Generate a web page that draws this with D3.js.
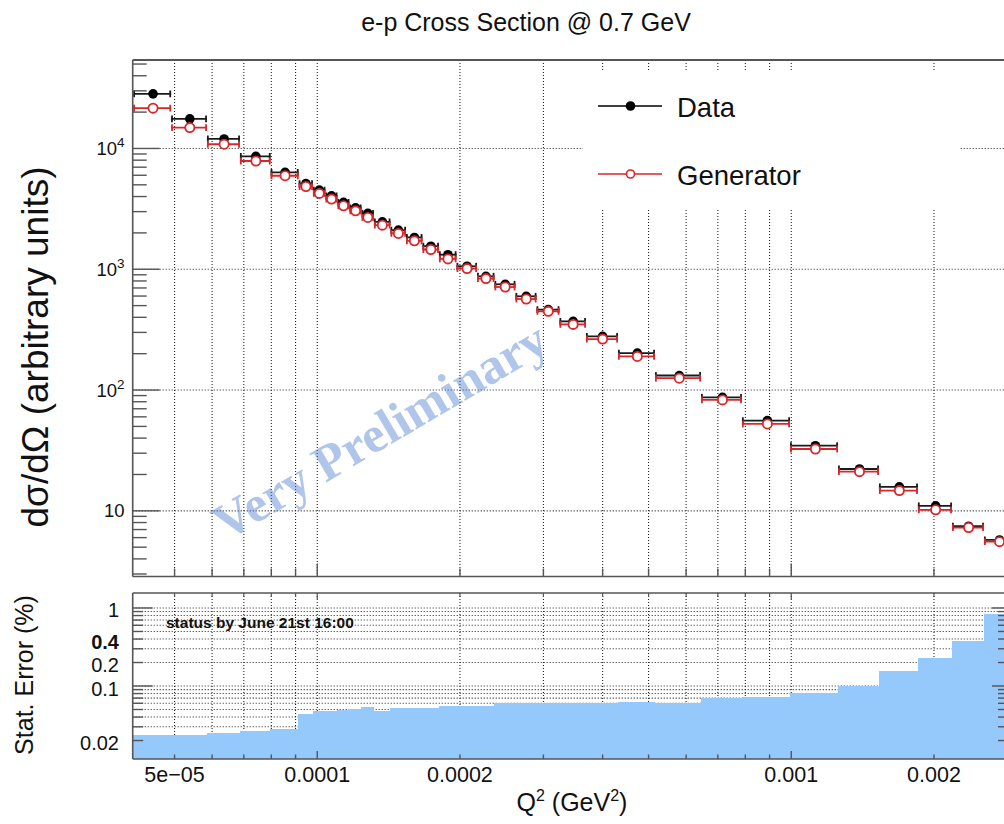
<!DOCTYPE html>
<html><head><meta charset="utf-8">
<script src="https://cdn.jsdelivr.net/npm/d3@7"></script>
<style>body{margin:0;background:#fff}svg{display:block}</style>
</head><body>
<svg id="c" width="1004" height="824"></svg>
<script>
// ---------------- data ----------------
const binEdges = [4.09e-5, 4.917e-5, 5.852e-5, 6.869e-5, 7.973e-5, 9.136e-5, 9.793e-5,
  1.0406e-4, 1.1031e-4, 1.169e-4, 1.240e-4, 1.317e-4, 1.427e-4, 1.539e-4, 1.667e-4,
  1.806e-4, 1.967e-4, 2.173e-4, 2.365e-4, 2.619e-4, 2.901e-4, 3.243e-4, 3.689e-4,
  4.310e-4, 5.158e-4, 6.450e-4, 7.870e-4, 9.94e-4, 1.255e-3, 1.531e-3, 1.850e-3,
  2.183e-3, 2.550e-3, 2.950e-3];
const dataValues = [28330, 17570, 11990, 8614, 6346, 5123, 4524, 4058, 3577, 3226, 2899,
  2469, 2108, 1833, 1552, 1319, 1059, 874.8, 750.8, 597, 463.1, 370.3, 278, 202, 131.9,
  87.1, 55.8, 34.6, 22.2, 15.8, 11.0, 7.46, 5.74];
const generatorValues = [21560, 14880, 10840, 7876, 5947, 4837, 4248, 3810, 3352, 3046,
  2685, 2318, 1979, 1718, 1457, 1218, 1013, 837.1, 713, 567, 448.3, 349.6, 264, 189.7,
  125.3, 82.9, 52.4, 32.5, 21.1, 14.7, 10.2, 7.27, 5.56];
const statErrorPct = [0.0235, 0.0238, 0.0247, 0.0265, 0.0284, 0.0434, 0.0478, 0.0480,
  0.0492, 0.0512, 0.0533, 0.0478, 0.0518, 0.0518, 0.0520, 0.0557, 0.0557, 0.0557,
  0.0611, 0.0612, 0.0612, 0.0611, 0.0611, 0.0624, 0.0613, 0.0696, 0.0729, 0.0825,
  0.100, 0.156, 0.229, 0.381, 0.825];
const xTickValues = [5e-5, 1e-4, 2e-4, 1e-3, 2e-3];
const xTickLabels = ["5e\u221205", "0.0001", "0.0002", "0.001", "0.002"];
const yTopTickValues = [10, 100, 1000, 10000];
const yTopTickExps = ["", "2", "3", "4"];
const yBotTickValues = [1, 0.4, 0.2, 0.1, 0.02];
const yBotTickLabels = ["1", "0.4", "0.2", "0.1", "0.02"];
const seriesNames = ["Data", "Generator"];
const titleText = "e-p Cross Section @ 0.7 GeV";
const statusText = "status by June 21st 16:00";
const watermarkText = "Very Preliminary";

// ---------------- layout ----------------
const L = 132.7, R = 1006;
const T1 = 60, B1 = 576.5, T2 = 593, B2 = 759;
const svg = d3.select("#c");
const FONT = "'Liberation Sans', Arial, Helvetica, sans-serif";
const RED = "#d9262b";
const GRID = {stroke: "#222", w: 1.1, dash: "1,2"};
const FRAME = "#555";

const x = d3.scaleLog().domain([4.08e-5, 2.838e-3]).range([L, R]);
const yT = d3.scaleLog().domain([2.86, 5.4e4]).range([B1, T1]);
const yB = d3.scaleLog().domain([0.0116, 1.556]).range([B2, T2]);

const defs = svg.append("defs");
defs.append("clipPath").attr("id", "cp1").append("rect").attr("x", L).attr("y", T1).attr("width", R - L).attr("height", B1 - T1);
defs.append("clipPath").attr("id", "cp2").append("rect").attr("x", L).attr("y", T2).attr("width", R - L).attr("height", B2 - T2);

const xTicksAll = x.ticks().filter(v => v >= x.domain()[0] && v <= x.domain()[1]);
const isDecade = v => Math.abs(Math.log10(v) - Math.round(Math.log10(v))) < 1e-6;

// ---------------- top panel ----------------
const g1 = svg.append("g").attr("clip-path", "url(#cp1)");
g1.selectAll("line.vg").data(xTicksAll).join("line")
  .attr("x1", d => x(d)).attr("x2", d => x(d)).attr("y1", T1).attr("y2", B1)
  .attr("stroke", GRID.stroke).attr("stroke-width", GRID.w).attr("stroke-dasharray", GRID.dash);
g1.selectAll("line.hg").data(yTopTickValues).join("line")
  .attr("x1", L).attr("x2", R).attr("y1", d => yT(d)).attr("y2", d => yT(d))
  .attr("stroke", GRID.stroke).attr("stroke-width", GRID.w).attr("stroke-dasharray", GRID.dash);

// legend background
g1.append("rect").attr("x", 583).attr("y", 70).attr("width", 377).attr("height", 139).attr("fill", "#fff");

// watermark
g1.append("text").text(watermarkText)
  .attr("transform", "translate(380,431) rotate(-30.5)")
  .attr("text-anchor", "middle").attr("dominant-baseline", "central")
  .attr("font-family", "'Liberation Serif','Times New Roman',serif").attr("font-weight", "bold")
  .attr("font-size", 51).attr("fill", "#4f7fd0").attr("fill-opacity", 0.45);

const bins = dataValues.map((v, i) => ({
  lo: binEdges[i], hi: binEdges[i + 1], c: (binEdges[i] + binEdges[i + 1]) / 2,
  d: v, g: generatorValues[i], e: statErrorPct[i]
}));

function errBars(key, color) {
  const gg = g1.append("g");
  gg.selectAll("line.h").data(bins).join("line")
    .attr("x1", d => x(d.lo)).attr("x2", d => x(d.hi))
    .attr("y1", d => yT(d[key])).attr("y2", d => yT(d[key]))
    .attr("stroke", color).attr("stroke-width", 1.8);
  gg.selectAll("line.cl").data(bins).join("line")
    .attr("x1", d => x(d.lo) + 0.9).attr("x2", d => x(d.lo) + 0.9)
    .attr("y1", d => yT(d[key]) - 3.4).attr("y2", d => yT(d[key]) + 3.4)
    .attr("stroke", color).attr("stroke-width", 1.8);
  gg.selectAll("line.cr").data(bins).join("line")
    .attr("x1", d => x(d.hi) - 0.9).attr("x2", d => x(d.hi) - 0.9)
    .attr("y1", d => yT(d[key]) - 3.4).attr("y2", d => yT(d[key]) + 3.4)
    .attr("stroke", color).attr("stroke-width", 1.8);
}
errBars("d", "#1a1a1a");
g1.append("g").selectAll("circle").data(bins).join("circle")
  .attr("cx", d => x(d.c)).attr("cy", d => yT(d.d)).attr("r", 4.8).attr("fill", "#000");
errBars("g", RED);
g1.append("g").selectAll("circle").data(bins).join("circle")
  .attr("cx", d => x(d.c)).attr("cy", d => yT(d.g)).attr("r", 4.6)
  .attr("fill", "#fff").attr("stroke", RED).attr("stroke-width", 1.8);

// legend entries
const leg = svg.append("g");
[{y: 106, name: seriesNames[0], col: "#000", fill: "#000"},
 {y: 174, name: seriesNames[1], col: RED, fill: "#fff"}].forEach(e => {
  leg.append("line").attr("x1", 598).attr("x2", 662).attr("y1", e.y).attr("y2", e.y)
    .attr("stroke", e.col).attr("stroke-width", 1.5);
  leg.append("circle").attr("cx", 630.5).attr("cy", e.y).attr("r", 4)
    .attr("fill", e.fill).attr("stroke", e.col).attr("stroke-width", 1.6);
  leg.append("text").attr("x", 677).attr("y", e.y + 10.5).text(e.name)
    .attr("font-family", FONT).attr("font-size", 27.5).attr("fill", "#111");
});

// top panel frame & ticks
const ax1 = svg.append("g").attr("stroke", FRAME).attr("fill", "none");
ax1.append("line").attr("x1", L).attr("x2", R).attr("y1", T1).attr("y2", T1).attr("stroke-width", 2.2);
ax1.append("line").attr("x1", L).attr("x2", R).attr("y1", B1).attr("y2", B1).attr("stroke-width", 1.6);
ax1.append("line").attr("x1", L).attr("x2", L).attr("y1", T1).attr("y2", B1).attr("stroke-width", 1.6);
ax1.selectAll("line.xt").data(xTicksAll).join("line")
  .attr("x1", d => x(d)).attr("x2", d => x(d)).attr("y1", B1).attr("y2", d => B1 - (isDecade(d) ? 13 : 8))
  .attr("stroke-width", 1.4);
const yTopTicks = yT.ticks().filter(v => v >= yT.domain()[0] && v <= yT.domain()[1]);
ax1.selectAll("line.yt").data(yTopTicks).join("line")
  .attr("x1", L).attr("x2", d => L + (isDecade(d) ? 27 : 14)).attr("y1", d => yT(d)).attr("y2", d => yT(d))
  .attr("stroke-width", 1.4);

const yl = svg.append("g").attr("font-family", FONT).attr("fill", "#111");
yTopTickValues.forEach((v, i) => {
  const t = yl.append("text").attr("x", 124.5).attr("y", yT(v) + 6.5).attr("text-anchor", "end")
    .attr("font-size", 18.5);
  t.append("tspan").text("10");
  if (yTopTickExps[i]) t.append("tspan").attr("dy", -8).attr("font-size", 13.5).text(yTopTickExps[i]);
});

// titles
svg.append("text").attr("x", 526).attr("y", 31).attr("text-anchor", "middle")
  .attr("font-family", FONT).attr("font-size", 25).attr("fill", "#111").text(titleText);
svg.append("text").attr("transform", "translate(48,347) rotate(-90)").attr("text-anchor", "middle")
  .attr("font-family", FONT).attr("font-size", 37).attr("fill", "#111")
  .text("d\u03c3/d\u03a9 (arbitrary units)");

// ---------------- bottom panel ----------------
const g2 = svg.append("g").attr("clip-path", "url(#cp2)");
const yBotTicks = yB.ticks().filter(v => v >= yB.domain()[0] && v <= yB.domain()[1]);
g2.selectAll("line.vg").data(xTicksAll).join("line")
  .attr("x1", d => x(d)).attr("x2", d => x(d)).attr("y1", T2).attr("y2", B2)
  .attr("stroke", GRID.stroke).attr("stroke-width", GRID.w).attr("stroke-dasharray", GRID.dash);
g2.selectAll("line.hg").data(yBotTicks).join("line")
  .attr("x1", L).attr("x2", R).attr("y1", d => yB(d)).attr("y2", d => yB(d))
  .attr("stroke", GRID.stroke).attr("stroke-width", GRID.w).attr("stroke-dasharray", GRID.dash);
g2.selectAll("rect.h").data(bins).join("rect")
  .attr("x", d => x(d.lo) - 0.3).attr("width", d => x(d.hi) - x(d.lo) + 0.6)
  .attr("y", d => yB(d.e)).attr("height", d => B2 - yB(d.e))
  .attr("fill", "#95c8fb").attr("shape-rendering", "crispEdges");

g2.append("text").attr("x", 166).attr("y", 628).text(statusText)
  .attr("font-family", FONT).attr("font-weight", "bold").attr("font-size", 15.5).attr("fill", "#111");

const ax2 = svg.append("g").attr("stroke", FRAME).attr("fill", "none");
ax2.append("line").attr("x1", L).attr("x2", R).attr("y1", T2).attr("y2", T2).attr("stroke-width", 1.6);
ax2.append("line").attr("x1", L).attr("x2", R).attr("y1", B2).attr("y2", B2).attr("stroke-width", 1.6);
ax2.append("line").attr("x1", L).attr("x2", L).attr("y1", T2).attr("y2", B2).attr("stroke-width", 1.6);
ax2.selectAll("line.xt").data(xTicksAll).join("line")
  .attr("x1", d => x(d)).attr("x2", d => x(d)).attr("y1", B2).attr("y2", d => B2 - (isDecade(d) ? 8 : 4.5))
  .attr("stroke-width", 1.4);
ax2.selectAll("line.xtt").data(xTicksAll).join("line")
  .attr("x1", d => x(d)).attr("x2", d => x(d)).attr("y1", T2).attr("y2", d => T2 + (isDecade(d) ? 6 : 4))
  .attr("stroke-width", 1.2);
ax2.selectAll("line.yt").data(yBotTicks).join("line")
  .attr("x1", L).attr("x2", d => L + (isDecade(d) ? 20 : 10.5)).attr("y1", d => yB(d)).attr("y2", d => yB(d))
  .attr("stroke-width", 1.4);
ax2.selectAll("line.ytr").data(yBotTicks).join("line")
  .attr("x1", 1004).attr("x2", d => 1004 - (isDecade(d) ? 12 : 6)).attr("y1", d => yB(d)).attr("y2", d => yB(d))
  .attr("stroke-width", 1.4);

const bl = svg.append("g").attr("font-family", FONT).attr("fill", "#111");
yBotTickValues.forEach((v, i) => {
  bl.append("text").attr("x", 119).attr("y", yB(v) + 9.5).attr("text-anchor", "end")
    .attr("font-size", 20).attr("font-weight", yBotTickLabels[i] === "0.4" ? "bold" : "normal")
    .text(yBotTickLabels[i]);
});
xTickValues.forEach((v, i) => {
  bl.append("text").attr("x", x(v)).attr("y", 781.5).attr("text-anchor", "middle")
    .attr("font-size", 21.5).text(xTickLabels[i]);
});
svg.append("text").attr("transform", "translate(33,675) rotate(-90)").attr("text-anchor", "middle")
  .attr("font-family", FONT).attr("font-size", 25).attr("fill", "#111").text("Stat. Error (%)");

const xt = svg.append("text").attr("x", 572).attr("y", 811).attr("text-anchor", "middle")
  .attr("font-family", FONT).attr("font-size", 25).attr("fill", "#111");
xt.append("tspan").text("Q");
xt.append("tspan").attr("dy", -10).attr("font-size", 16).text("2");
xt.append("tspan").attr("dy", 10).text(" (GeV");
xt.append("tspan").attr("dy", -10).attr("font-size", 16).text("2");
xt.append("tspan").attr("dy", 10).text(")");
</script>
</body></html>
